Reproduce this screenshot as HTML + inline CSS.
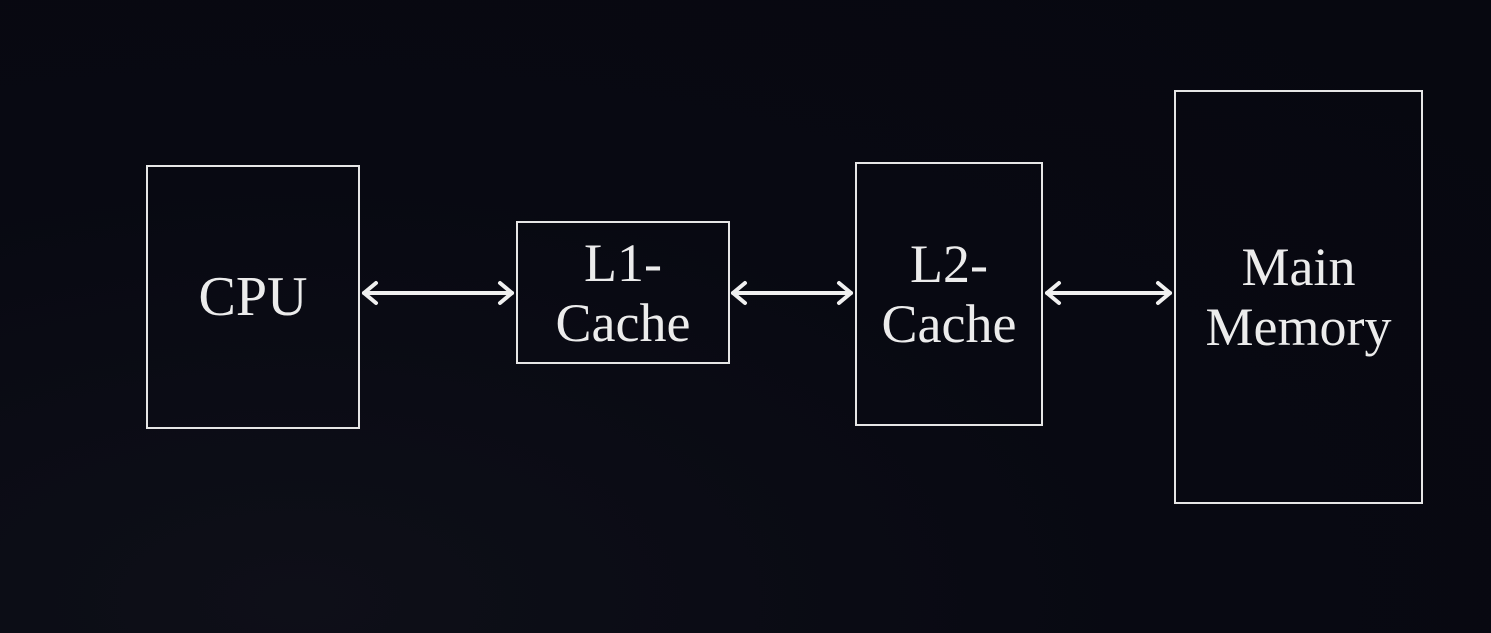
<!DOCTYPE html>
<html><head><style>
html,body{margin:0;padding:0;background:#070810;}
body{width:1491px;height:633px;overflow:hidden;position:relative;background:radial-gradient(ellipse at 20% 95%,#0e0f18 0%,#080912 50%,#070810 100%);}
.b{position:absolute;border:2px solid #e6e6e6;box-sizing:border-box;color:#ececec;font-family:"Liberation Serif",serif;display:flex;align-items:center;justify-content:center;text-align:center;font-size:54px;line-height:60px;}
</style></head><body>
<div class="b" style="left:146px;top:165px;width:214px;height:264px;font-size:56px;">CPU</div>
<div class="b" style="left:516px;top:221px;width:214px;height:143px;">L1-<br>Cache</div>
<div class="b" style="left:855px;top:162px;width:188px;height:264px;">L2-<br>Cache</div>
<div class="b" style="left:1174px;top:90px;width:249px;height:414px;">Main<br>Memory</div>
<svg width="1491" height="633" style="position:absolute;left:0;top:0">
<g stroke="#f0f0f0" stroke-width="4" fill="none" stroke-linecap="round" stroke-linejoin="round">
<line x1="364" y1="293" x2="512" y2="293"/><polyline points="376,283 364,293 376,303"/><polyline points="500,283 512,293 500,303"/>
<line x1="733" y1="293" x2="851" y2="293"/><polyline points="745,283 733,293 745,303"/><polyline points="839,283 851,293 839,303"/>
<line x1="1047" y1="293" x2="1170" y2="293"/><polyline points="1059,283 1047,293 1059,303"/><polyline points="1158,283 1170,293 1158,303"/>
</g></svg>
</body></html>
